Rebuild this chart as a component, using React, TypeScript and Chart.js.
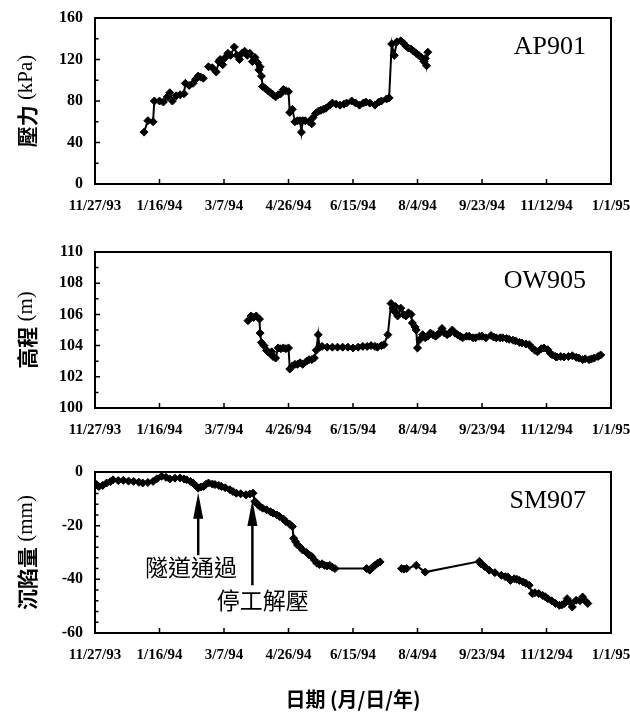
import React, { useEffect, useRef } from "react";
import { Chart, registerables } from "chart.js";

Chart.register(...registerables);

// ---- x axis (days since 11/27/93) ----
const xTickDays = [0, 50, 100, 150, 200, 250, 300, 350, 400];
const xTickLabels = ["11/27/93", "1/16/94", "3/7/94", "4/26/94", "6/15/94", "8/4/94", "9/23/94", "11/12/94", "1/1/95"];

// ---- AP901 pressure (kPa) ----
const ap901Days = [38, 41, 45, 46, 50, 53, 56, 58, 60, 63, 66, 69, 70, 73, 76, 78, 80, 82, 84, 86, 88, 91, 94, 96, 97, 99, 101, 103, 105, 108, 110, 112, 114, 116, 118, 120, 122, 124, 126, 127, 128, 129, 130, 132, 134, 136, 138, 140, 142, 144, 146, 148, 150, 151, 153, 155, 157, 159, 160, 161, 163, 166, 168, 169, 171, 173, 175, 177, 179, 182, 184, 187, 190, 193, 195, 199, 202, 205, 208, 210, 213, 217, 220, 222, 226, 228, 230, 232, 234, 237, 239, 241, 243, 245, 247, 249, 251, 253, 255, 256, 257, 258];
const ap901Values = [50, 61, 60, 80, 80, 79, 84, 88, 80, 85, 86, 87, 97, 95, 97, 101, 104, 103, 102, null, 113, 112, 108, 118, 120, 115, 122, 126, 124, 132, 124, 120, 126, 128, 124, 126, 118, 122, 117, 110, 113, 104, 94, 92, 90, 88, 86, 84, 86, 87, 91, 90, 89, 69, 72, 60, 61, 61, 50, 61, 61, 60, 58, 64, 68, 70, 71, 72, 73, 76, 78, 77, 76, 77, 78, 80, 78, 76, 78, 79, 78, 76, 79, 80, 82, 83, 135, 124, 137, 138, 136, 133, 131, 130, 128, 126, 124, 122, 118, 121, 114, 127];

// ---- OW905 elevation (m) ----
const ow905Days = [118.6, 121, 123, 125, 127.5, 128, 129, 131, 133, 134, 136, 137, 138, 140, 142, 144, 146, 148, 150, 151, 153, 155, 157, 159, 161, 164, 166, 168, 170, 171.5, 173, 174, 176, 180, 184, 188, 192, 196, 200, 204, 207.6, 211, 214, 217, 219, 222, 224, 227, 229.5, 231, 232, 233, 234.6, 237, 239, 241, 243, 245, 246, 248, 249, 250, 252, 254, 256, 258, 260, 262, 264, 265.6, 267, 269, 271, 273, 275, 277, 279, 281, 283, 285, 288, 290, 293, 295, 298, 300, 303, 307, 309, 311, 314, 316, 319, 321, 324, 326, 329, 331, 334, 336.6, 339, 341, 343, 346, 348, 351, 353, 354.6, 357, 358, 361, 363.6, 367, 370, 373, 375, 378, 380, 383, 385, 387, 390, 392];
const ow905Values = [105.6, 105.9, 105.8, 105.9, 105.7, 104.8, 104.2, 104.0, 103.7, 103.6, 103.5, 103.6, 103.3, 103.2, 103.85, 103.8, 103.85, 103.8, 103.85, 102.5, 102.7, 102.8, 102.8, 102.9, 102.8, 103.0, 103.1, 103.1, 103.2, 103.7, 104.7, 103.9, 103.95, 103.9, 103.9, 103.9, 103.9, 103.9, 103.85, 103.9, 103.95, 103.95, 104.0, 103.95, 103.9, 104.0, 104.06, 104.7, 106.7, 106.4, 106.2, 106.5, 105.9, 106.4, 106.0, 105.9, 106.1, 106.0, 105.45, 105.2, 105.0, 103.85, 104.4, 104.7, 104.5, 104.6, 104.8, 104.7, 104.6, 104.7, 104.8, 105.1, 104.8, 104.7, 104.8, 105.0, 104.8, 104.7, 104.6, 104.5, 104.6, 104.6, 104.5, 104.5, 104.6, 104.6, 104.5, 104.65, 104.55, 104.5, 104.5, 104.5, 104.45, 104.4, 104.35, 104.3, 104.2, 104.17, 104.1, 104.06, 103.85, 103.7, 103.6, 103.8, 103.85, 103.74, 103.5, 103.4, 103.3, 103.27, 103.3, 103.27, 103.3, 103.35, 103.25, 103.2, 103.1, 103.15, 103.1, 103.15, 103.2, 103.3, 103.4];

// ---- SM907 settlement (mm) ----
const sm907Days = [0, 1.3, 3, 6, 9, 12, 14, 18, 22, 26, 30, 34, 37, 41, 45, 48, 51.6, 55, 58, 62, 66, 69, 71, 74, 76, 78, 80, 82, 84, 86, 88, 91, 93, 96, 98, 101, 104.5, 107, 109.6, 113, 117, 120, 122.5, 124, 126, 127.7, 130, 133, 136, 138, 141, 143, 146, 148, 151, 153, 154, 155.5, 157, 159, 161, 164, 166, 168, 170, 172, 174, 176, 178, 180, 182, 184, 186, 210.6, 213, 215, 217, 219, 221, 229, 237.7, 239.5, 241.6, 249, 256, 298, 299, 302, 305.6, 310, 315, 318, 320, 322, 325, 327, 329, 332, 334, 336.6, 339, 341, 344, 347, 349, 351, 354, 357, 360, 362, 364, 366, 368, 370, 373, 376, 378, 380, 382];
const sm907Values = [-5.0, -4.7, -5.4, -5.0, -4.1, -3.6, -2.9, -3.2, -3.1, -3.4, -3.5, -3.8, -4.1, -3.9, -3.5, -2.5, -1.6, -2.0, -2.6, -2.3, -2.2, -2.6, -2.9, -3.5, -4.1, -5.0, -6.0, -5.6, -5.4, -4.6, -4.1, -4.5, -4.7, -5.0, -5.4, -5.9, -6.6, -7.3, -7.9, -8.1, -8.5, -8.2, -7.9, -11, -12, -12.8, -13.5, -14.1, -14.8, -15.3, -16.0, -16.6, -17.5, -18.5, -19.5, -20.3, -24.7, -26, -27.2, -28, -29.1, -30, -30.9, -31.5, -32.8, -34, -34.5, -34.2, -34.8, -35, -34.8, -35.5, -36, -36, -36.6, -35.5, -34.8, -34, -33.5, null, -36, -36.2, -36, -34.8, -37.3, -33.3, -34.2, -35.2, -36.6, -37.5, -38.5, -39, -39.1, -40.4, -39.8, -40, -40.4, -41, -41.5, -42.2, -45.3, -45, -45.3, -46, -46.5, -47.2, -48, -49, -49.7, -49.5, -49, -47.2, -48.5, -50.3, -47.8, -48, -46.6, -48, -49];

// ---- annotations on SM907 ----
const arrowDays = [80, 122];
const arrowTips = [-7.7, -10.4];
const arrowTails = [-31, -42.2];
const noteTexts = ["隧道通過", "停工解壓"];
const noteDays = [74.4, 130];
const noteValues = [-35.4, -47.8];

const SERIF = '"Liberation Serif", "Times New Roman", serif';
const CJK = '"Noto Sans CJK TC", "Noto Sans CJK SC", sans-serif';

type Panel = {
  name: string;
  titleCJK: string;
  titleUnit: string;
  days: number[];
  values: (number | null)[];
  yMin: number;
  yMax: number;
  yStep: number;
  yMinor: number;
  height: number;
  top: number;
  areaTop: number;
  areaBottom: number;
  annotate?: boolean;
};

const panels: Panel[] = [
  { name: "AP901", titleCJK: "壓力", titleUnit: " (kPa)", days: ap901Days, values: ap901Values, yMin: 0, yMax: 160, yStep: 40, yMinor: 20, height: 225, top: 0, areaTop: 18, areaBottom: 184 },
  { name: "OW905", titleCJK: "高程", titleUnit: " (m)", days: ow905Days, values: ow905Values, yMin: 100, yMax: 110, yStep: 2, yMinor: 1, height: 220, top: 225, areaTop: 27, areaBottom: 183 },
  { name: "SM907", titleCJK: "沉陷量", titleUnit: " (mm)", days: sm907Days, values: sm907Values, yMin: -60, yMax: 0, yStep: 20, yMinor: 4, height: 268, top: 445, areaTop: 27, areaBottom: 188, annotate: true },
];

function makeChart(canvas: HTMLCanvasElement, p: Panel) {
  const data = p.days.map((d, i) => ({ x: d, y: p.values[i] }));
  const yTicks: number[] = [];
  for (let v = p.yMin; v <= p.yMax + 1e-9; v += p.yStep) yTicks.push(Math.round(v * 1000) / 1000);

  const decor = {
    id: "decor" + p.name,
    afterDraw(chart: any) {
      const { ctx, chartArea: a, scales } = chart;
      const xs = scales.x;
      const ys = scales.y;
      ctx.save();
      ctx.strokeStyle = "#000";
      ctx.fillStyle = "#000";
      // frame
      ctx.lineWidth = 2;
      ctx.strokeRect(a.left, a.top, a.right - a.left, a.bottom - a.top);
      // inward x ticks
      ctx.lineWidth = 1.5;
      ctx.beginPath();
      xTickDays.forEach((d) => {
        const px = xs.getPixelForValue(d);
        ctx.moveTo(px, a.bottom);
        ctx.lineTo(px, a.bottom - 5);
      });
      // inward y ticks (major + minor)
      const n = Math.round((p.yMax - p.yMin) / p.yMinor);
      for (let i = 0; i <= n; i++) {
        const v = p.yMin + i * p.yMinor;
        const py = ys.getPixelForValue(v);
        const isMajor = Math.abs(((v - p.yMin) / p.yStep) - Math.round((v - p.yMin) / p.yStep)) < 1e-6;
        ctx.moveTo(a.left, py);
        ctx.lineTo(a.left + (isMajor ? 5 : 3.5), py);
      }
      ctx.stroke();
      // series label
      ctx.font = "26px " + SERIF;
      ctx.textAlign = "right";
      ctx.textBaseline = "alphabetic";
      ctx.fillText(p.name, a.right - 25, a.top + 36);
      // y title (rotated, mixed fonts)
      const f1 = "bold 21px " + CJK;
      const f2 = "21px " + SERIF;
      ctx.font = f1;
      const w1 = ctx.measureText(p.titleCJK).width;
      ctx.font = f2;
      const w2 = ctx.measureText(p.titleUnit).width;
      ctx.translate(26, (a.top + a.bottom) / 2);
      ctx.rotate(-Math.PI / 2);
      ctx.textAlign = "left";
      ctx.textBaseline = "middle";
      const start = -(w1 + w2) / 2;
      ctx.font = f1;
      ctx.fillText(p.titleCJK, start, 1);
      ctx.font = f2;
      ctx.fillText(p.titleUnit, start + w1, 0);
      ctx.restore();

      if (p.annotate) {
        ctx.save();
        ctx.fillStyle = "#000";
        ctx.strokeStyle = "#000";
        arrowDays.forEach((d, i) => {
          const x = xs.getPixelForValue(d);
          const yt = ys.getPixelForValue(arrowTips[i]);
          const yb = ys.getPixelForValue(arrowTails[i]);
          const head = 26;
          ctx.lineWidth = 2.5;
          ctx.beginPath();
          ctx.moveTo(x, yb);
          ctx.lineTo(x, yt + head - 2);
          ctx.stroke();
          ctx.beginPath();
          ctx.moveTo(x, yt);
          ctx.lineTo(x - 5, yt + head);
          ctx.lineTo(x + 5, yt + head);
          ctx.closePath();
          ctx.fill();
        });
        ctx.font = "23px " + CJK;
        ctx.textAlign = "center";
        ctx.textBaseline = "middle";
        noteTexts.forEach((t, i) => {
          ctx.fillText(t, xs.getPixelForValue(noteDays[i]), ys.getPixelForValue(noteValues[i]));
        });
        // bottom axis title
        ctx.font = "bold 20px " + CJK;
        ctx.fillText("日期 (月/日/年)", (a.left + a.right) / 2, 254);
        ctx.restore();
      }
    },
  };

  return new Chart(canvas, {
    type: "line",
    data: {
      datasets: [
        {
          data: data as any,
          borderColor: "#000",
          borderWidth: 2,
          backgroundColor: "#000",
          pointStyle: "rectRot",
          pointRadius: 4,
          pointBackgroundColor: "#000",
          pointBorderColor: "#000",
          pointBorderWidth: 1,
          tension: 0,
          spanGaps: false,
          fill: false,
        },
      ],
    },
    options: {
      responsive: false,
      animation: false,
      events: [],
      layout: { padding: { top: p.areaTop, right: 19, left: 0, bottom: 0 } },
      plugins: { legend: { display: false }, tooltip: { enabled: false }, title: { display: false } },
      scales: {
        x: {
          type: "linear",
          min: 0,
          max: 400,
          afterBuildTicks: (s: any) => {
            s.ticks = xTickDays.map((v) => ({ value: v }));
          },
          afterFit: (s: any) => {
            s.height = p.height - p.areaBottom;
            s.paddingLeft = 0;
            s.paddingRight = 0;
          },
          ticks: {
            autoSkip: false,
            maxRotation: 0,
            minRotation: 0,
            padding: 13,
            color: "#000",
            font: { family: SERIF, size: 15, weight: "bold" },
            callback: (_v: any, i: number) => xTickLabels[i],
          },
          grid: { display: false, drawTicks: false },
          border: { display: false },
        },
        y: {
          type: "linear",
          min: p.yMin,
          max: p.yMax,
          afterBuildTicks: (s: any) => {
            s.ticks = yTicks.map((v) => ({ value: v }));
          },
          afterFit: (s: any) => {
            s.width = 95;
            s.paddingTop = 0;
            s.paddingBottom = 0;
          },
          ticks: {
            padding: 12,
            color: "#000",
            font: { family: SERIF, size: 16, weight: "bold" },
            callback: (v: any) => String(v),
          },
          grid: { display: false, drawTicks: false },
          border: { display: false },
        },
      },
    },
    plugins: [decor],
  });
}

export default function App() {
  const refs = [useRef<HTMLCanvasElement>(null), useRef<HTMLCanvasElement>(null), useRef<HTMLCanvasElement>(null)];
  useEffect(() => {
    const charts = panels.map((p, i) => makeChart(refs[i].current as HTMLCanvasElement, p));
    return () => charts.forEach((c) => c.destroy());
  }, []);
  return (
    <div style={{ position: "absolute", left: 0, top: 0, width: 630, height: 713, background: "#fff", overflow: "hidden" }}>
      {panels.map((p, i) => (
        <canvas
          key={p.name}
          ref={refs[i]}
          width={630}
          height={p.height}
          style={{ position: "absolute", left: 0, top: p.top, width: 630, height: p.height }}
        />
      ))}
    </div>
  );
}
